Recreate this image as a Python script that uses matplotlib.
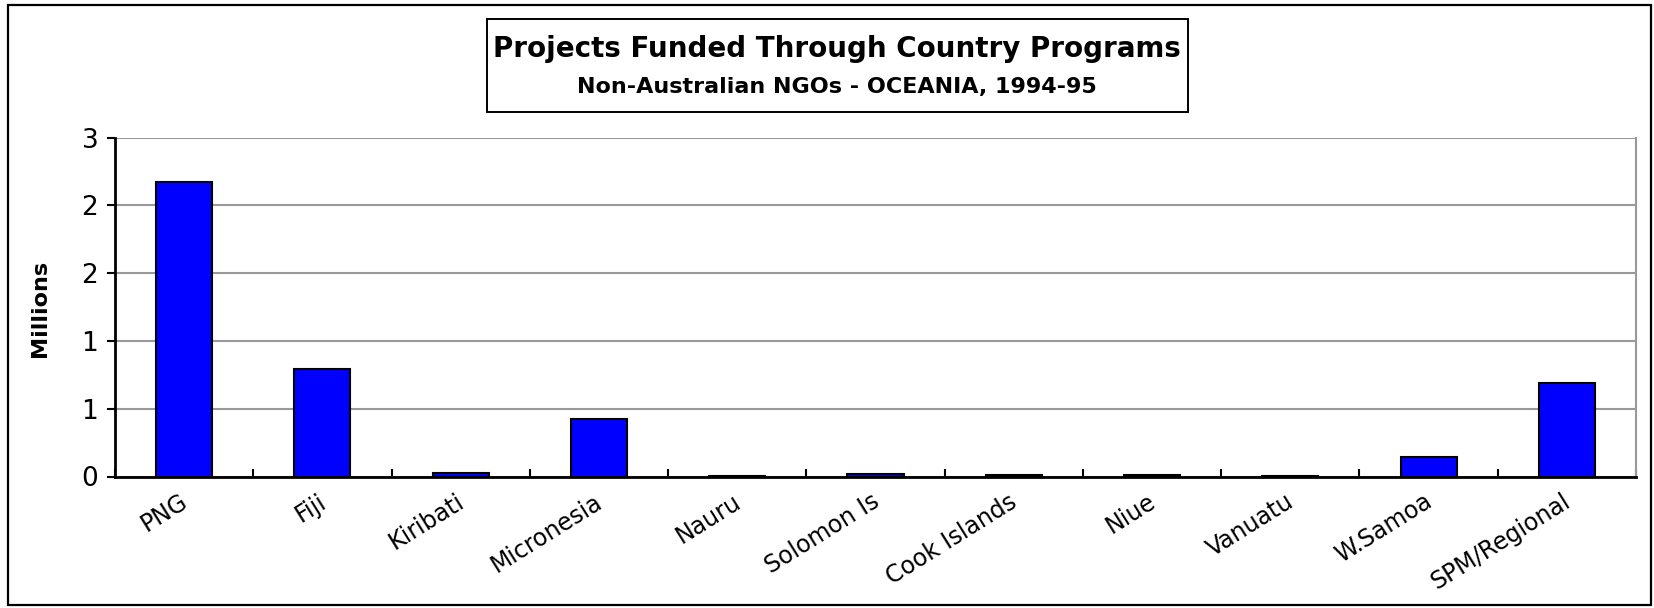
#!/usr/bin/env python3
"""Projects funded through country programs - non-Australian NGOs, Oceania 1994-95."""
import numpy as np
import matplotlib
matplotlib.use("Agg")
import matplotlib.pyplot as plt
import matplotlib.transforms as mtransforms
from matplotlib.patches import Rectangle

# ---- data (millions) ------------------------------------------------------
countries = ["PNG", "Fiji", "Kiribati", "Micronesia", "Nauru", "Solomon Is",
             "Cook Islands", "Niue", "Vanuatu", "W.Samoa", "SPM/Regional"]
funding_m = [2.61, 0.95, 0.03, 0.51, 0.008, 0.02, 0.012, 0.013, 0.005, 0.175, 0.83]

y_ticks = [0, 0.6, 1.2, 1.8, 2.4, 3.0]
y_tick_labels = ["0", "1", "1", "2", "2", "3"]

title = "Projects Funded Through Country Programs"
subtitle = "Non-Australian NGOs - OCEANIA, 1994-95"

plt.rcParams.update({
    "font.family": ["DejaVu Sans"],
})

W, H, DPI = 1654, 608, 100
fig = plt.figure(figsize=(W / DPI, H / DPI), dpi=DPI)

def fx(px):
    return px / W

def fy(py):
    return 1 - py / H

# outer chart frame
fig.patches.append(Rectangle((fx(8), fy(605)), fx(1651 - 8), (605 - 5) / H,
                             transform=fig.transFigure, fill=False,
                             edgecolor="black", linewidth=1.6))

# title box
fig.patches.append(Rectangle((fx(487), fy(112)), fx(1188 - 487), (112 - 19) / H,
                             transform=fig.transFigure, fill=False,
                             edgecolor="black", linewidth=1.4))
fig.text(fx(837), fy(57), title, ha="center", va="baseline",
         fontsize=20, fontweight="bold")
fig.text(fx(837), fy(93), subtitle, ha="center", va="baseline",
         fontsize=16, fontweight="bold")

# plot area: x 115..1636, y 137.7..476.5 (pixels)
ax = fig.add_axes([fx(115), fy(476.5), fx(1636 - 115), (476.5 - 137.7) / H])

x = np.arange(len(countries))
ax.bar(x, funding_m, width=0.405, color="#0000FF", edgecolor="black",
       linewidth=1.5, zorder=3)

ax.set_xlim(-0.5, len(countries) - 0.5)
ax.set_ylim(0, 3.0)
ax.set_yticks(y_ticks)
ax.set_yticklabels(y_tick_labels, fontsize=19)
ax.yaxis.grid(True, color="#999999", linewidth=1.5, zorder=0)
ax.tick_params(axis="y", direction="out", length=6, width=1.5, pad=6)

# category boundary ticks (inside), labels at centres
ax.set_xticks(np.arange(len(countries) + 1) - 0.5)
ax.set_xticklabels([])
ax.tick_params(axis="x", direction="in", length=6, width=1.5)
off = mtransforms.ScaledTranslation(-5 / DPI, -13 / DPI, fig.dpi_scale_trans)
for i, name in enumerate(countries):
    ax.text(i, 0, name, transform=ax.get_xaxis_transform() + off,
            rotation=32, rotation_mode="anchor", ha="right", va="top",
            fontsize=17)

for side in ["left", "bottom"]:
    ax.spines[side].set_linewidth(2.0)
    ax.spines[side].set_color("black")
ax.spines["top"].set_visible(False)
ax.spines["right"].set_color("#999999")
ax.spines["right"].set_linewidth(1.5)

fig.text(fx(40), fy(308), "Millions", rotation=90, ha="center", va="center",
         fontsize=16, fontweight="bold")

fig.savefig("out.png", dpi=DPI)
